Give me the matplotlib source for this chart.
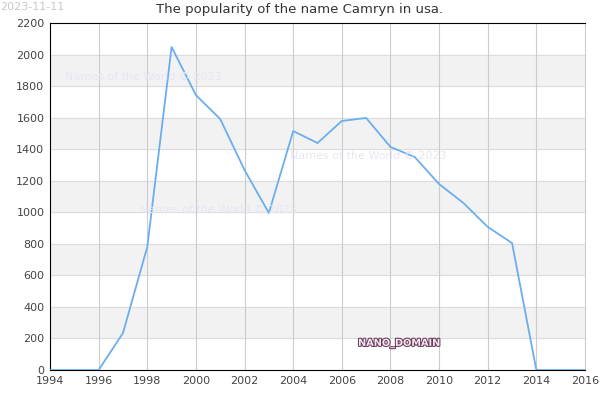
import matplotlib.pyplot as plt
import matplotlib.patheffects as pe

years = list(range(1994, 2017))
counts = [0, 0, 0, 234, 780, 2048, 1743, 1591, 1268, 995, 1515, 1439,
          1579, 1598, 1414, 1350, 1179, 1059, 907, 805, 0, 0, 0]
xticks = list(range(1994, 2017, 2))
yticks = list(range(0, 2201, 200))

fig = plt.figure(figsize=(6, 4), dpi=100)
ax = fig.add_axes([50/600, 30/400, 535/600, 347/400])

# alternating bands
for lo in range(200, 2000, 400):
    ax.axhspan(lo, lo + 200, color="#f2f2f2", zorder=0)
for y in yticks[1:-1]:
    ax.axhline(y, color="#dddddd", lw=0.8, zorder=1)
for x in xticks[1:-1]:
    ax.axvline(x, color="#cccccc", lw=0.8, zorder=1)

ax.plot(years, counts, color="#6aaef0", lw=1.3, zorder=3)

ax.set_xlim(1994, 2016)
ax.set_ylim(0, 2200)
ax.set_xticks(xticks)
ax.set_yticks(yticks)
ax.tick_params(length=0, labelsize=8, colors="#444444", pad=4)
for s in ["left", "bottom", "top"]:
    ax.spines[s].set_color("black")
ax.spines["right"].set_color("#cccccc")

fig.text(0.5, 1 - 10/400, "The popularity of the name Camryn in usa.",
         fontsize=9.5, color="#333333", ha="center", va="center")
fig.text(0.0, 0.995, "2023-11-11", fontsize=8, color="#c8c8c8", va="top", ha="left")

wm = "Names of the World © 2023"
for (x, y) in [(65, 77), (290, 156), (140, 210)]:
    fig.text(x/600, 1 - y/400, wm, fontsize=8, color="#e6e6f6", va="center", ha="left", zorder=2)

t = fig.text(399/600, 1 - 343/400, "NANO_DOMAIN", fontsize=7, color="#f4e8f0",
             va="center", ha="center", weight="bold")
t.set_path_effects([pe.Stroke(linewidth=1.5, foreground="#6a3a5a"), pe.Normal()])

fig.savefig("out.png", dpi=100)
